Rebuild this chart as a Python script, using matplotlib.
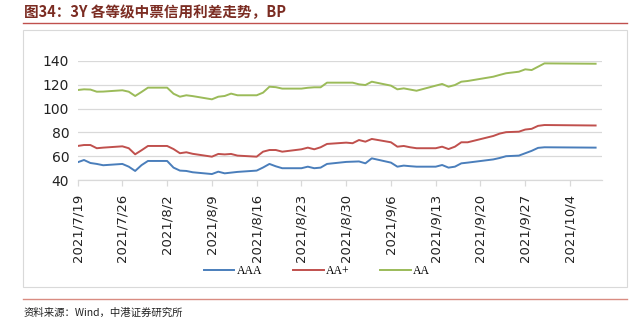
import matplotlib
matplotlib.use("Agg")
import matplotlib.pyplot as plt
import matplotlib.dates as mdates
from matplotlib.lines import Line2D
from matplotlib.patches import Rectangle
import datetime as dt

plt.rcParams['font.family'] = ['DejaVu Sans', 'Noto Sans CJK SC']

dates = ["2021-07-19", "2021-07-20", "2021-07-21", "2021-07-22", "2021-07-23",
         "2021-07-26", "2021-07-27", "2021-07-28", "2021-07-29", "2021-07-30",
         "2021-08-02", "2021-08-03", "2021-08-04", "2021-08-05", "2021-08-06",
         "2021-08-09", "2021-08-10", "2021-08-11", "2021-08-12", "2021-08-13",
         "2021-08-16", "2021-08-17", "2021-08-18", "2021-08-19", "2021-08-20",
         "2021-08-23", "2021-08-24", "2021-08-25", "2021-08-26", "2021-08-27",
         "2021-08-30", "2021-08-31", "2021-09-01", "2021-09-02", "2021-09-03",
         "2021-09-06", "2021-09-07", "2021-09-08", "2021-09-09", "2021-09-10",
         "2021-09-13", "2021-09-14", "2021-09-15", "2021-09-16", "2021-09-17", "2021-09-18",
         "2021-09-22", "2021-09-23", "2021-09-24", "2021-09-26",
         "2021-09-27", "2021-09-28", "2021-09-29", "2021-09-30",
         "2021-10-08"]

aaa = [54.9, 56.8, 54.3, 53.5, 52.4,
       53.5, 51.2, 47.6, 52.5, 56.0,
       56.0, 50.4, 47.9, 47.6, 46.5,
       45.0, 47.0, 45.6, 46.2, 46.8,
       47.9, 50.5, 53.5, 51.5, 49.9,
       49.9, 51.2, 49.9, 50.4, 53.5,
       55.2, 55.4, 55.6, 54.0, 58.2,
       54.6, 51.2, 52.1, 51.6, 51.2,
       51.2, 52.6, 50.4, 51.2, 54.0, 54.6,
       57.3, 58.5, 60.0, 60.5,
       62.5, 64.5, 67.0, 67.5,
       67.2]

aa_plus = [68.6, 69.4, 69.4, 66.7, 67.2,
           68.3, 66.7, 61.6, 65.0, 68.6,
           68.6, 66.0, 62.5, 63.3, 62.0,
           59.6, 61.9, 61.5, 61.9, 60.5,
           59.6, 63.8, 65.2, 65.2, 63.8,
           65.8, 67.2, 65.8, 67.5, 70.3,
           71.4, 70.9, 73.6, 72.2, 74.5,
           71.7, 68.0, 68.6, 67.5, 66.7,
           66.7, 68.0, 66.0, 68.0, 71.7, 71.7,
           77.0, 79.0, 80.2, 80.6,
           82.4, 83.0, 85.5, 86.2,
           85.8]

aa = [115.6, 116.2, 116.0, 114.2, 114.3,
      115.4, 114.2, 110.6, 114.0, 117.6,
      117.6, 112.5, 110.0, 111.2, 110.5,
      107.8, 110.0, 110.6, 112.6, 111.2,
      111.2, 113.4, 118.4, 118.0, 116.8,
      116.8, 117.5, 117.9, 117.9, 121.8,
      121.8, 121.8, 120.4, 119.8, 122.6,
      119.3, 116.2, 117.0, 116.0, 115.0,
      119.3, 120.7, 118.4, 119.8, 122.6, 123.2,
      126.8, 128.3, 129.7, 131.0,
      133.0, 132.4, 135.2, 138.0,
      137.7]

series_names = ["AAA", "AA+", "AA"]
series_colors = ["#4A7EBB", "#C0504D", "#9BBB59"]
y_ticks = [40, 60, 80, 100, 120, 140]

title_text = "图34：3Y 各等级中票信用利差走势，BP"
source_text = "资料来源：Wind，中港证券研究所"

W, H = 637, 331
fig = plt.figure(figsize=(W / 100, H / 100), dpi=100)

def fx(px):
    return px / W

def fy(py):
    return 1 - py / H

# outer chart frame
fig.patches.append(Rectangle((fx(23), fy(287)), fx(627) - fx(23), fy(30) - fy(287),
                             transform=fig.transFigure, fill=False,
                             edgecolor="#D9D9D9", linewidth=0.8))
# title underline and footer line
fig.add_artist(Line2D([fx(23), fx(627)], [fy(22.5), fy(22.5)], transform=fig.transFigure,
                      color="#C0504D", linewidth=1.0))
fig.add_artist(Line2D([fx(23), fx(627)], [fy(298.5), fy(298.5)], transform=fig.transFigure,
                      color="#D98C82", linewidth=1.0))

fig.text(fx(24), fy(12), title_text, fontsize=10.5, fontweight="bold", color="#7B2C22",
         ha="left", va="center", family=["Noto Sans CJK SC", "DejaVu Sans"])
fig.text(fx(24), fy(313), source_text, fontsize=7.5, color="#222222", style="italic",
         ha="left", va="center", family=["Noto Sans CJK SC", "DejaVu Sans"])

ax = fig.add_axes([fx(77.6), fy(180), fx(602) - fx(77.6), fy(61) - fy(180)])

x = [dt.datetime.strptime(d, "%Y-%m-%d") for d in dates]
for vals, name, col in zip([aaa, aa_plus, aa], series_names, series_colors):
    ax.plot(x, vals, color=col, linewidth=1.4, label=name, solid_joinstyle="round")

ax.set_ylim(40, 140)
ax.set_yticks(y_ticks)
ax.set_xlim(dt.datetime(2021, 7, 19), dt.datetime(2021, 10, 9))
ticks = [dt.datetime(2021, 7, 19) + dt.timedelta(days=7 * i) for i in range(12)]
ax.set_xticks(ticks)
ax.set_xticklabels([f"{t.year}/{t.month}/{t.day}" for t in ticks], rotation=90)

ax.grid(axis="y", color="#D9D9D9", linewidth=0.9)
ax.set_axisbelow(True)
for s in ["top", "right", "left"]:
    ax.spines[s].set_visible(False)
ax.spines["bottom"].set_color("#D9D9D9")
ax.spines["bottom"].set_linewidth(0.9)
ax.tick_params(axis="y", length=0, labelsize=10, pad=6, labelcolor="#222222")
ax.tick_params(axis="x", length=4, width=0.9, color="#D9D9D9", direction="out",
               labelsize=9.5, pad=6, labelcolor="#222222")

handles = [Line2D([], [], color=c, linewidth=1.4) for c in series_colors]
fig.legend(handles, series_names, loc="center", bbox_to_anchor=(fx(317), fy(271)),
           ncol=3, frameon=False, fontsize=8.5, handlelength=2.6, handletextpad=0.2,
           columnspacing=2.6, prop={"family": "Liberation Serif", "size": 8.5})

fig.savefig("out.png", dpi=100)
